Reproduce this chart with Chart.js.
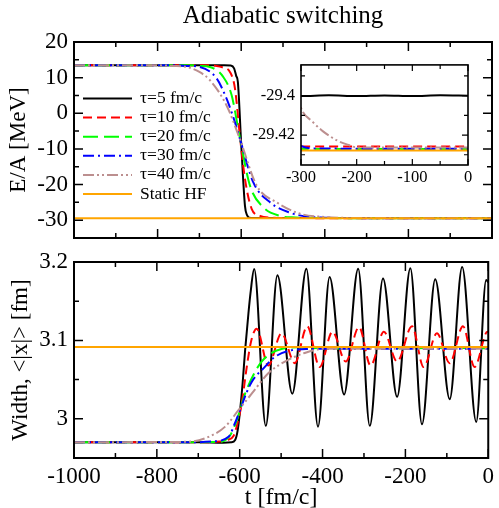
<!DOCTYPE html>
<html><head><meta charset="utf-8">
<script src="https://cdn.jsdelivr.net/npm/chart.js@4.4.0/dist/chart.umd.min.js"></script>
<style>
html,body{margin:0;padding:0;background:#fff;}
#wrap{position:relative;width:499px;height:508px;overflow:hidden;background:#fff;}
canvas{position:absolute;}
</style></head><body>
<div id="wrap">
<canvas id="cTop" width="499" height="260" style="left:0;top:0"></canvas>
<canvas id="cBot" width="499" height="268" style="left:0;top:240px"></canvas>
<canvas id="cIns" width="240" height="140" style="left:240px;top:49px"></canvas>
</div>
<script>
// ---------- labels ----------
const seriesLabels = ['τ=5 fm/c','τ=10 fm/c','τ=20 fm/c','τ=30 fm/c','τ=40 fm/c','Static HF'];

// ---------- top panel: E/A [MeV] vs t [fm/c] ----------
const tTop5  = [-1000,-640,-625,-617,-612,-608,-600,-591,-586,-581,-570,-300,-250,-200,-150,-100,-50,0];
const eTop5  = [13.5,13.5,13.4,12.6,10.5,8.8,-8.6,-26,-28.6,-29.3,-29.4,-29.4002,-29.3998,-29.4002,-29.3999,-29.4002,-29.3998,-29.4];
const tTop10 = [-1000,-680,-660,-645,-627,-615,-602,-591,-575,-555,-530,-480,-400,-300,0];
const eTop10 = [13.5,13.5,13.3,12.9,11.6,7.0,-7.6,-18.4,-26.8,-28.8,-29.3,-29.41,-29.424,-29.4258,-29.4258];
const tTop20 = [-1000,-720,-700,-675,-643,-623,-602,-579,-547,-507,-470,-420,-350,-300,0];
const eTop20 = [13.5,13.5,13.3,13.0,10.2,5.1,-7.6,-20.3,-26.4,-28.8,-29.25,-29.4,-29.425,-29.4271,-29.4271];
const tTop30 = [-1000,-760,-730,-699,-659,-635,-615,-602,-571,-531,-483,-443,-400,-350,-300,-280,0];
const eTop30 = [13.5,13.45,13.3,13.0,9.8,4.1,-2.5,-7.6,-19.4,-25.0,-27.9,-29.0,-29.3,-29.41,-29.4255,-29.4268,-29.427];
const tTop40 = [-1000,-800,-763,-730,-700,-675,-635,-602,-563,-515,-459,-400,-350,-300,-279,-261,-234,-213,-200,0];
const eTop40 = [13.5,13.45,13.3,13.0,11.6,9.3,2.2,-7.6,-20.3,-25.0,-28.2,-29.1,-29.35,-29.4062,-29.4133,-29.418,-29.4229,-29.4252,-29.4263,-29.4263];
const tTopHF = [-1000,0];
const eTopHF = [-29.4279,-29.4279];

// ---------- bottom panel: Width <|x|> [fm] vs t [fm/c] ----------
const tBot5  = [-1000,-700,-640,-620,-611,-605,-599,-593,-587,-579,-574,-565,-537,-509,-473,-439,-411,-383,-348,-314,-286,-254,-220,-188,-160,-128,-93,-63,-29,-5,0];
const wBot5  = [2.970,2.970,2.9695,2.970,2.973,2.985,3.011,3.045,3.087,3.134,3.160,3.191,2.991,3.183,3.032,3.1915,2.990,3.181,3.031,3.1915,2.991,3.179,3.028,3.192,2.993,3.178,3.025,3.1935,2.996,3.177,3.174];
const tBot10 = [-1000,-700,-650,-630,-615,-605,-595,-583,-572,-559,-531,-499,-467,-437,-407,-376,-344,-312,-284,-252,-220,-184,-156,-124,-93,-61,-33,-2,0];
const wBot10 = [2.970,2.970,2.971,2.973,2.978,2.995,3.020,3.066,3.100,3.115,3.068,3.109,3.071,3.118,3.066,3.111,3.073,3.117,3.068,3.111,3.073,3.118,3.066,3.109,3.071,3.118,3.066,3.111,3.111];
const tBot20 = [-1000,-700,-660,-643,-623,-607,-600,-587,-565,-547,-523,-499,-460,-430,-400,-370,-300,-200,-100,0];
const wBot20 = [2.970,2.970,2.9705,2.971,2.979,2.998,3.010,3.032,3.058,3.073,3.084,3.089,3.0912,3.0895,3.091,3.0898,3.0905,3.090,3.0905,3.090];
const tBot30 = [-1000,-720,-667,-627,-611,-600,-583,-571,-555,-547,-515,-475,-440,-400,0];
const wBot30 = [2.970,2.970,2.971,2.977,2.995,3.010,3.034,3.047,3.058,3.062,3.079,3.0875,3.089,3.0895,3.0895];
const tBot40 = [-1000,-760,-715,-675,-635,-603,-571,-531,-491,-443,-395,-350,0];
const wBot40 = [2.970,2.9705,2.971,2.977,2.990,3.011,3.032,3.058,3.073,3.084,3.0895,3.0895,3.0895];
const tBotHF = [-1000,0];
const wBotHF = [3.0915,3.0915];

// ---------- ticks ----------
const xTickLabels   = [-1000,-800,-600,-400,-200,0];
const xMinorTicks   = [-900,-700,-500,-300,-100];
const topYTickLabels = [-30,-20,-10,0,10,20];
const topYMinorTicks = [-25,-15,-5,5,15];
const botYTickLabels = [3,3.1,3.2];
const botYMinorTicks = [3.05,3.15];
const insXTickLabels = [-300,-200,-100,0];
const insXMinorTicks = [-250,-150,-50];
const insYTickLabels = [-29.42,-29.4];
const insYMinorTicks = [-29.43,-29.41,-29.39];

// ---------- styles ----------
const seriesColors = ['#000000','#ff0000','#00ff00','#0000ff','#bc8f8f','#ffa500'];
const seriesDashes = [[],[9,5],[15,6],[11,4,2,4],[11,3,2,3,2,3],[]];

Chart.defaults.font.family = "'Liberation Serif', 'Times New Roman', serif";
Chart.defaults.color = '#000';

function pts(t, v){ return t.map((x,i)=>({x:x, y:v[i]})); }
function makeDatasets(tArr, vArr){
  return tArr.map((t,i)=>({
    label: seriesLabels[i],
    data: pts(t, vArr[i]),
    borderColor: seriesColors[i],
    backgroundColor: seriesColors[i],
    borderWidth: 2,
    borderDash: seriesDashes[i],
    pointRadius: 0,
    fill: false,
    cubicInterpolationMode: 'monotone',
    order: tArr.length - 1 - i
  }));
}

const frameTicks = {
  id: 'frameTicks',
  beforeDraw(chart, args, o){
    if (o.fill){
      const a = chart.chartArea, ctx = chart.ctx;
      ctx.save(); ctx.fillStyle = o.fill;
      ctx.fillRect(a.left, a.top, a.right-a.left, a.bottom-a.top);
      ctx.restore();
    }
  },
  afterDraw(chart, args, o){
    const ctx = chart.ctx, a = chart.chartArea, xs = chart.scales.x, ys = chart.scales.y;
    ctx.save();
    ctx.strokeStyle = '#000';
    ctx.lineWidth = o.tickWidth;
    ctx.setLineDash([]);
    ctx.beginPath();
    const xt = (vals, len) => vals.forEach(v => {
      const p = xs.getPixelForValue(v);
      ctx.moveTo(p, a.bottom); ctx.lineTo(p, a.bottom - len);
      ctx.moveTo(p, a.top); ctx.lineTo(p, a.top + len);
    });
    const yt = (vals, len) => vals.forEach(v => {
      const p = ys.getPixelForValue(v);
      ctx.moveTo(a.left, p); ctx.lineTo(a.left + len, p);
      ctx.moveTo(a.right, p); ctx.lineTo(a.right - len, p);
    });
    xt(o.xMajor, o.majorLen); xt(o.xMinor, o.minorLen);
    yt(o.yMajor, o.majorLen); yt(o.yMinor, o.minorLen);
    ctx.stroke();
    ctx.lineWidth = o.frameWidth;
    ctx.strokeRect(a.left, a.top, a.right-a.left, a.bottom-a.top);
    ctx.restore();
  }
};

const insideLegend = {
  id: 'insideLegend',
  afterDatasetsDraw(chart, args, o){
    if (!o.display) return;
    const ctx = chart.ctx, a = chart.chartArea;
    ctx.save();
    ctx.font = o.fontSize + "px 'Liberation Serif', serif";
    ctx.textBaseline = 'middle'; ctx.textAlign = 'left'; ctx.fillStyle = '#000';
    chart.data.datasets.forEach((ds,i)=>{
      const yy = a.top + o.dyTop + i*o.dy;
      ctx.strokeStyle = ds.borderColor; ctx.lineWidth = ds.borderWidth;
      ctx.setLineDash(ds.borderDash || []);
      ctx.beginPath(); ctx.moveTo(a.left + o.x0, yy); ctx.lineTo(a.left + o.x1, yy); ctx.stroke();
      ctx.setLineDash([]);
      ctx.fillText(ds.label, a.left + o.xText, yy);
    });
    ctx.restore();
  }
};

const setTicks = arr => (s => { s.ticks = arr.map(v => ({value: v})); });
const lbl = v => String(v);
const noGrid = { display: false, drawTicks: false, tickLength: 0 };

const tArrTop = [tTop5,tTop10,tTop20,tTop30,tTop40,tTopHF];
const vArrTop = [eTop5,eTop10,eTop20,eTop30,eTop40,eTopHF];
const tArrBot = [tBot5,tBot10,tBot20,tBot30,tBot40,tBotHF];
const vArrBot = [wBot5,wBot10,wBot20,wBot30,wBot40,wBotHF];

// ---------- top chart ----------
new Chart(document.getElementById('cTop'), {
  type: 'line',
  data: { datasets: makeDatasets(tArrTop, vArrTop) },
  options: {
    responsive: false, animation: false, devicePixelRatio: 1,
    layout: { padding: { left: 0, right: 7, top: 0, bottom: 22 } },
    scales: {
      x: { type: 'linear', min: -1000, max: 0, display: false },
      y: { type: 'linear', min: -35, max: 20,
           afterBuildTicks: setTicks(topYTickLabels),
           afterFit: s => { s.width = 74; },
           grid: noGrid, border: { display: false },
           ticks: { padding: 6, font: { size: 23 }, color: '#000', callback: lbl },
           title: { display: true, text: 'E/A [MeV]', color: '#000', font: { size: 23 }, padding: { top: 5, bottom: 0 } } }
    },
    plugins: {
      legend: { display: false }, tooltip: { enabled: false },
      title: { display: true, text: 'Adiabatic switching', fullSize: false, color: '#000',
               font: { size: 25, weight: 'normal', lineHeight: 1.2 }, padding: { top: 1, bottom: 11 } },
      frameTicks: { xMajor: xTickLabels, xMinor: xMinorTicks, yMajor: topYTickLabels, yMinor: topYMinorTicks,
                    majorLen: 9, minorLen: 5, tickWidth: 1.5, frameWidth: 2 },
      insideLegend: { display: true, fontSize: 17.5, x0: 9, x1: 58, xText: 66, dyTop: 56.5, dy: 19.1 }
    }
  },
  plugins: [frameTicks, insideLegend]
});

// ---------- bottom chart ----------
new Chart(document.getElementById('cBot'), {
  type: 'line',
  data: { datasets: makeDatasets(tArrBot, vArrBot) },
  options: {
    responsive: false, animation: false, devicePixelRatio: 1,
    layout: { padding: { left: 0, right: 7, top: 22, bottom: 0 } },
    scales: {
      x: { type: 'linear', min: -1000, max: 0,
           afterBuildTicks: setTicks(xTickLabels),
           afterFit: s => { s.height = 50; },
           grid: noGrid, border: { display: false },
           ticks: { padding: 5, font: { size: 23 }, color: '#000', maxRotation: 0, autoSkip: false, callback: lbl },
           title: { display: true, text: 't [fm/c]', color: '#000', font: { size: 24, lineHeight: 1 }, padding: { top: 0, bottom: -2 } } },
      y: { type: 'linear', min: 2.95, max: 3.2,
           afterBuildTicks: setTicks(botYTickLabels),
           afterFit: s => { s.width = 74; },
           grid: noGrid, border: { display: false },
           ticks: { padding: 6, font: { size: 23 }, color: '#000', callback: lbl },
           title: { display: true, text: 'Width, <|x|> [fm]', color: '#000', font: { size: 23 }, padding: { top: 7, bottom: 0 } } }
    },
    plugins: {
      legend: { display: false }, tooltip: { enabled: false },
      frameTicks: { xMajor: xTickLabels, xMinor: xMinorTicks, yMajor: botYTickLabels, yMinor: botYMinorTicks,
                    majorLen: 9, minorLen: 5, tickWidth: 1.5, frameWidth: 2 }
    }
  },
  plugins: [frameTicks]
});

// ---------- inset chart (zoom of top panel) ----------
new Chart(document.getElementById('cIns'), {
  type: 'line',
  data: { datasets: makeDatasets(tArrTop, vArrTop) },
  options: {
    responsive: false, animation: false, devicePixelRatio: 1,
    layout: { padding: { left: 0, right: 12, top: 10, bottom: 0 } },
    scales: {
      x: { type: 'linear', min: -300, max: 0,
           afterBuildTicks: setTicks(insXTickLabels),
           afterFit: s => { s.height = 24; },
           grid: noGrid, border: { display: false },
           ticks: { padding: 3, font: { size: 16.5 }, color: '#000', maxRotation: 0, autoSkip: false, callback: lbl } },
      y: { type: 'linear', min: -29.4352, max: -29.3844,
           afterBuildTicks: setTicks(insYTickLabels),
           afterFit: s => { s.width = 61; },
           grid: noGrid, border: { display: false },
           ticks: { padding: 6, font: { size: 16.5 }, color: '#000', callback: lbl } }
    },
    plugins: {
      legend: { display: false }, tooltip: { enabled: false },
      frameTicks: { fill: '#fff', xMajor: insXTickLabels, xMinor: insXMinorTicks, yMajor: insYTickLabels, yMinor: insYMinorTicks,
                    majorLen: 6, minorLen: 4, tickWidth: 1.2, frameWidth: 1.6 }
    }
  },
  plugins: [frameTicks]
});
</script>
</body></html>
